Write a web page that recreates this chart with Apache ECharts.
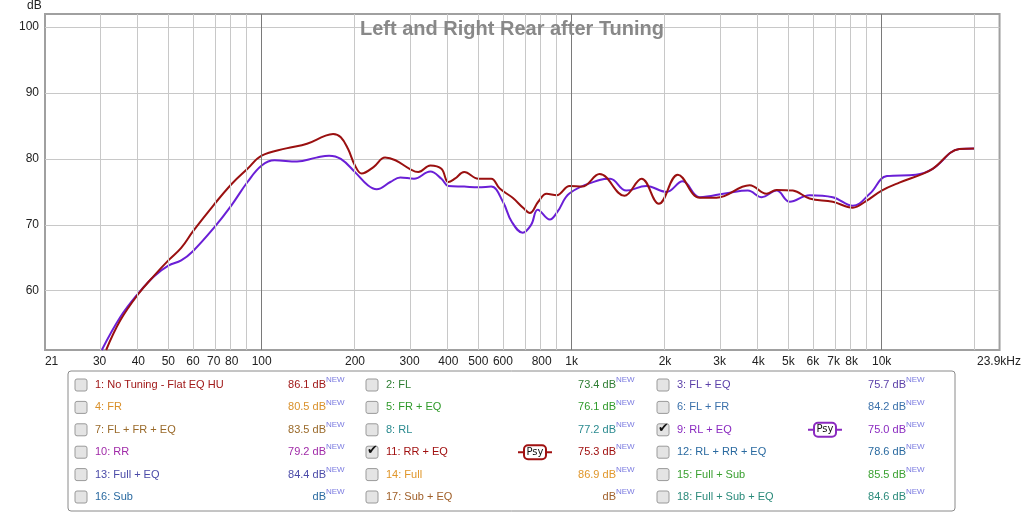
<!DOCTYPE html>
<html>
<head>
<meta charset="utf-8">
<script src="https://cdn.jsdelivr.net/npm/echarts@6/dist/echarts.min.js"></script>
<style>
  html, body { margin: 0; padding: 0; background: #fff; }
  #main { width: 1024px; height: 513px; }
</style>
</head>
<body>
<div id="main"></div>
<script>
    // frequency response data, Hz / dB
    var rrFreq = [31.5, 35, 40, 45, 50, 55, 60, 70, 80, 90, 100, 120, 140, 160, 170, 180, 190, 200, 210, 230, 250, 270, 300, 320, 350, 380, 400, 420, 450, 500, 550, 586, 645, 700, 733, 780, 830, 894, 985, 1080, 1230, 1480, 1680, 1910, 2200, 2590, 2930, 3750, 4250, 4580, 5170, 5850, 6950, 8070, 8900, 10000, 11400, 13500, 14600, 17800, 20000];
    var rrDb   = [51, 55.5, 59.5, 62.3, 64.6, 66.5, 69, 73, 76.2, 78.5, 80.5, 81.6, 82.3, 83.5, 83.8, 83.3, 81.5, 79, 77.8, 78.8, 80.2, 79.8, 78.5, 78, 79, 78.5, 76.5, 77, 78, 77, 77, 75.5, 74.1, 72.5, 71.8, 73.5, 74.7, 74.5, 75.9, 75.8, 77.7, 74.4, 77, 73.2, 77.6, 74.1, 74.1, 76, 74.7, 75.3, 75.2, 74, 73.5, 72.6, 73.6, 75.2, 76.4, 77.7, 78.5, 81.5, 81.6];
    var rlFreq = [30.5, 35, 40, 45, 50, 55, 60, 70, 80, 90, 100, 110, 130, 150, 165, 180, 200, 220, 235, 260, 280, 310, 350, 380, 400, 450, 500, 550, 600, 640, 695, 740, 777, 850, 900, 985, 1230, 1330, 1500, 1740, 2020, 2280, 2590, 3160, 3700, 4100, 4580, 5050, 5850, 6950, 8070, 9150, 10400, 12900, 14600, 17800, 20000];
    var rlDb   = [51, 56, 59.6, 62.2, 63.8, 64.6, 66, 69.5, 73, 76.5, 79, 79.8, 79.6, 80.2, 80.5, 80, 78, 76, 75.4, 76.5, 77.2, 77, 78.1, 77, 75.9, 75.8, 75.7, 75.8, 73.5, 70.5, 68.8, 70, 72.3, 70.8, 72, 74.8, 76.8, 77, 75.2, 75.9, 75, 76.6, 74.2, 74.8, 75.2, 74.2, 75.2, 73.5, 74.5, 74.2, 72.9, 74.7, 77.4, 77.6, 78.5, 81.5, 81.6];

    var xLabelFreqs = [21, 30, 40, 50, 60, 70, 80, 100, 200, 300, 400, 500, 600, 800, 1000, 2000, 3000, 4000, 5000, 6000, 7000, 8000, 10000, 23900];
    var gridFreqs = [30, 40, 50, 60, 70, 80, 90, 200, 300, 400, 500, 600, 700, 800, 900, 2000, 3000, 4000, 5000, 6000, 7000, 8000, 9000, 20000];
    var decadeFreqs = [100, 1000, 10000];
    var yTicks = [60, 70, 80, 90, 100];

    // legend panel entries: [label, level, colour, checked]
    var legendItems = [
      ['1: No Tuning - Flat EQ HU', '86.1', '#a01818', false],
      ['2: FL', '73.4', '#2e7d32', false],
      ['3: FL + EQ', '75.7', '#5a3fa8', false],
      ['4: FR', '80.5', '#d9902a', false],
      ['5: FR + EQ', '76.1', '#2f9a2a', false],
      ['6: FL + FR', '84.2', '#3a70aa', false],
      ['7: FL + FR + EQ', '83.5', '#9a6a2a', false],
      ['8: RL', '77.2', '#2a8a8f', false],
      ['9: RL + EQ', '75.0', '#8a2ac0', true],
      ['10: RR', '79.2', '#a02aa8', false],
      ['11: RR + EQ', '75.3', '#a01010', true],
      ['12: RL + RR + EQ', '78.6', '#2a6aa0', false],
      ['13: Full + EQ', '84.4', '#4a4aa8', false],
      ['14: Full', '86.9', '#e0962a', false],
      ['15: Full + Sub', '85.5', '#3aa030', false],
      ['16: Sub', '', '#2a6aa0', false],
      ['17: Sub + EQ', '', '#a0602a', false],
      ['18: Full + Sub + EQ', '84.6', '#2a8a7a', false]
    ];

    function pts(f, d) {
      return f.map(function (v, i) { return [Math.log10(v), d[i]]; });
    }
    function fmtFreq(f) {
      if (f === 23900) return '23.9kHz';
      if (f >= 1000) return (f / 1000) + 'k';
      return String(f);
    }

    var graphics = [];
    graphics.push({ type: 'rect', shape: { x: 68, y: 371, width: 887, height: 140, r: 3 },
      style: { fill: '#fff', stroke: '#8a8a8a', lineWidth: 1 } });
    var colX = [75, 366, 657], valX = [346, 636, 926];
    legendItems.forEach(function (it, i) {
      var col = i % 3, row = Math.floor(i / 3);
      var y = 385 + row * 22.4;
      graphics.push({ type: 'rect', shape: { x: colX[col], y: y - 6, width: 12, height: 12, r: 2 },
        style: { fill: '#e4e4e4', stroke: '#9a9a9a', lineWidth: 1 } });
      if (it[3]) {
        graphics.push({ type: 'text', x: colX[col] + 1, y: y - 8,
          style: { text: '\u2714', fill: '#111', font: 'bold 13px DejaVu Sans' } });
        var px = col === 1 ? 524 : 814;
        graphics.push({ type: 'line', shape: { x1: px - 6, y1: y, x2: px + 28, y2: y },
          style: { stroke: it[2], lineWidth: 2 } });
        graphics.push({ type: 'rect', shape: { x: px, y: y - 7, width: 22, height: 14, r: 4 },
          style: { fill: '#fff', stroke: it[2], lineWidth: 2 } });
        graphics.push({ type: 'text', x: px + 11, y: y, style: { text: 'Psy', fill: '#111',
          font: '10px DejaVu Sans', align: 'center', verticalAlign: 'middle' } });
      }
      graphics.push({ type: 'text', x: colX[col] + 20, y: y, style: { text: it[0], fill: it[2],
        font: '11px Liberation Sans', verticalAlign: 'middle' } });
      graphics.push({ type: 'text', x: valX[col] - 20, y: y, style: { text: (it[1] ? it[1] + ' ' : '') + 'dB',
        fill: it[2], font: '11px Liberation Sans', align: 'right', verticalAlign: 'middle' } });
      graphics.push({ type: 'text', x: valX[col] - 20, y: y - 5, style: { text: 'NEW',
        fill: '#7a7ae0', font: '8px Liberation Sans', verticalAlign: 'middle' } });
    });

    var markLines = gridFreqs.map(function (f) {
      return { xAxis: Math.log10(f), lineStyle: { color: '#c8c8c8', width: 1, type: 'solid' } };
    }).concat(decadeFreqs.map(function (f) {
      return { xAxis: Math.log10(f), lineStyle: { color: '#7a7a7a', width: 1, type: 'solid' } };
    }));

    var myChart = echarts.init(document.getElementById('main'));
    var option = {
        animation: false,
        backgroundColor: '#fff',
        title: {
            text: 'Left and Right Rear after Tuning',
            left: 'center',
            top: 14,
            textStyle: { color: '#888', fontSize: 20, fontWeight: 'bold', fontFamily: 'Liberation Sans' }
        },
        graphic: graphics.concat([{ type: 'text', x: 27, y: 0,
          style: { text: 'dB', fill: '#222', font: '12px Liberation Sans' } }]),
        grid: { left: 45, right: 24, top: 14, bottom: 163, show: true, borderColor: '#a0a0a0', borderWidth: 2 },
        xAxis: {
            type: 'value',
            min: Math.log10(20),
            max: Math.log10(24000),
            axisLine: { show: false },
            axisTick: { show: false },
            splitLine: { show: false },
            axisLabel: {
                customValues: xLabelFreqs.map(function (f) { return Math.log10(f); }),
                formatter: function (v) { return fmtFreq(Math.round(Math.pow(10, v) / 10) * 10 + (Math.pow(10, v) < 25 ? 1 : 0)); },
                color: '#222', fontSize: 12, fontFamily: 'Liberation Sans', margin: 6
            }
        },
        yAxis: {
            type: 'value',
            min: 51,
            max: 102,
            axisLine: { show: false },
            axisTick: { show: false, customValues: yTicks },
            splitLine: { show: true, lineStyle: { color: '#c8c8c8' } },
            axisLabel: { customValues: yTicks, color: '#222', fontSize: 12, fontFamily: 'Liberation Sans', margin: 6 }
        },
        series: [
          {
            name: 'grid',
            type: 'line',
            data: [],
            silent: true,
            markLine: { silent: true, symbol: 'none', label: { show: false }, data: markLines }
          },
          {
            name: '9: RL + EQ',
            type: 'line',
            data: pts(rlFreq, rlDb),
            smooth: 0.4,
            symbol: 'none',
            lineStyle: { color: '#6a1fd6', width: 2 }
          },
          {
            name: '11: RR + EQ',
            type: 'line',
            data: pts(rrFreq, rrDb),
            smooth: 0.4,
            symbol: 'none',
            lineStyle: { color: '#9a1010', width: 2 }
          }
        ]
    };
    myChart.setOption(option);
</script>
</body>
</html>
